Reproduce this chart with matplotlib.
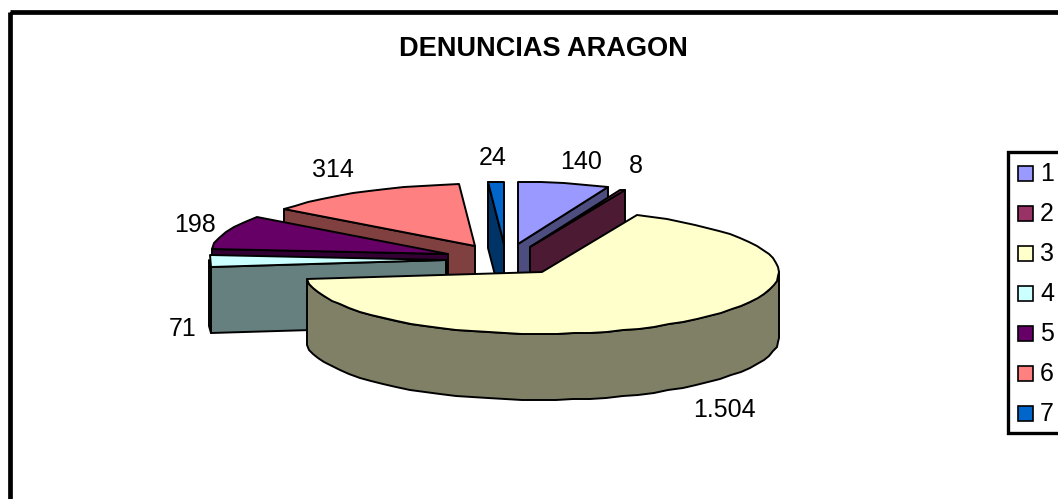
import numpy as np
import matplotlib
matplotlib.use("Agg")
import matplotlib.pyplot as plt
from matplotlib.patches import Polygon, Rectangle

categories = ["1", "2", "3", "4", "5", "6", "7"]
values = [140, 8, 1504, 71, 198, 314, 24]
colors = ["#9999FF", "#993366", "#FFFFCC", "#CCFFFF", "#660066", "#FF8080", "#0066CC"]
title = "DENUNCIAS ARAGON"

plt.rcParams["font.family"] = ["Liberation Sans", "DejaVu Sans"]

fig = plt.figure(figsize=(10.58, 4.99), dpi=100)
ax = fig.add_axes([0, 0, 1, 1])
ax.set_xlim(0, 1058)
ax.set_ylim(499, 0)
ax.axis("off")

# pie geometry in pixels
rx, ry, depth = 237, 62, 66
centers = [(518, 244), (530, 247), (542, 272), (446, 260), (448, 254), (475, 246), (504, 244)]
label_pos = [(581, 162), (636, 166), (724, 410), (183, 329), (195, 225), (333, 170), (493, 158)]

edges = np.concatenate([[0], np.cumsum(values)]) / sum(values) * 360


def rim(c, a):
    a = np.radians(a)
    # rounded to whole pixels, the original arcs are stepped like this
    return np.round(np.column_stack([c[0] + rx * np.sin(a), c[1] - ry * np.cos(a)]))


def shade(col):
    return tuple(0.5 * x for x in matplotlib.colors.to_rgb(col))


def add_poly(pts, col, z):
    ax.add_patch(Polygon(pts, closed=True, facecolor=col, edgecolor="black",
                         linewidth=1.4, joinstyle="round", zorder=z))


# back to front
order = [6, 0, 1, 5, 4, 3, 2]
for z, i in enumerate(order):
    c = centers[i]
    a1, a2 = edges[i], edges[i + 1]
    dark = shade(colors[i])
    # cut faces that look to the viewer
    for a, show in [(a1, 180 < a1 < 360), (a2, 0 < a2 < 180)]:
        if show:
            p = rim(c, [a])[0]
            add_poly([c, p, (p[0], p[1] + depth), (c[0], c[1] + depth)], dark, z * 3)
    # outer wall, front half only
    lo, hi = max(a1, 90), min(a2, 270)
    if lo < hi:
        arc = rim(c, np.linspace(lo, hi, max(2, int((hi - lo) / 4))))
        low = arc + [0, depth]
        add_poly(np.vstack([arc, low[::-1]]), dark, z * 3 + 1)
    # top
    arc = rim(c, np.linspace(a1, a2, max(2, int((a2 - a1) / 4))))
    add_poly(np.vstack([[c], arc]), colors[i], z * 3 + 2)

for i, v in enumerate(values):
    txt = f"{v:,}".replace(",", ".")
    ax.text(label_pos[i][0], label_pos[i][1], txt, fontsize=18, ha="center", va="center", zorder=50)

ax.text(543, 49, title, fontsize=19.5, fontweight="bold", ha="center", va="center", zorder=50)

# chart frame, runs off the picture on the right and at the bottom
ax.add_patch(Rectangle((9.5, 12), 1100, 600, facecolor="none", edgecolor="black",
                       linewidth=3.4, joinstyle="miter", zorder=60))

# legend box
ax.add_patch(Rectangle((1007.5, 152), 100, 281, facecolor="white", edgecolor="black",
                       linewidth=2.4, joinstyle="miter", zorder=61))
for i, name in enumerate(categories):
    y = 173 + i * 40
    ax.add_patch(Rectangle((1017.5, y - 7.5), 15, 15, facecolor=colors[i], edgecolor="black",
                           linewidth=1.2, zorder=62))
    ax.text(1040, y + 1, name, fontsize=18, ha="left", va="center", zorder=62)

fig.savefig("out.png", dpi=100)
